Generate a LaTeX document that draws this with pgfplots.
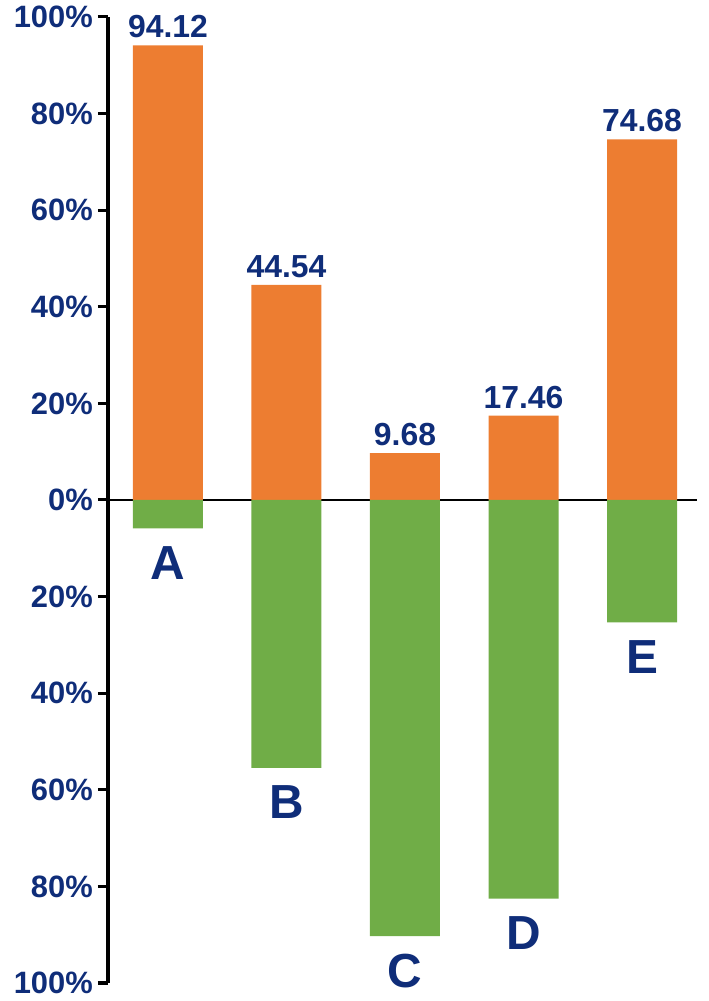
\documentclass[border=0pt]{standalone}
\usepackage{fontspec}
\setmainfont{Liberation Sans}
\usepackage{pgfplots}
\usepackage{pgfplotstable}
\pgfplotsset{compat=1.18}
\definecolor{barorange}{HTML}{ED7D31}
\definecolor{bargreen}{HTML}{70AD47}
\definecolor{navy}{HTML}{0F2D79}
\pgfplotstableread{
x y label
0 94.12 94.12
1 44.54 44.54
2 9.68 9.68
3 17.46 17.46
4 74.68 74.68
}\pos
\pgfplotstableread{
x y label
0 -5.88 A
1 -55.46 B
2 -90.32 C
3 -82.54 D
4 -25.32 E
}\neg
\begin{document}
\begin{tikzpicture}
\useasboundingbox (0,0) rectangle (709bp,1001bp);
\begin{axis}[
  at={(108bp,18bp)}, anchor=south west,
  scale only axis, width=589bp, height=966bp,
  xmin=-0.506, xmax=4.464,
  ymin=-100, ymax=100,
  axis x line=middle, axis y line=left,
  x axis line style={-, line width=2bp, black},
  y axis line style={-, line width=3bp, black},
  xtick=\empty,
  ytick={-100,-80,-60,-40,-20,0,20,40,60,80,100},
  yticklabels={100\%,80\%,60\%,40\%,20\%,0\%,20\%,40\%,60\%,80\%,100\%},
  tick align=outside,
  major tick length=10bp,
  ytick style={line width=3bp, black},
  yticklabel style={font=\fontsize{31}{31}\selectfont\bfseries, text=navy, inner sep=0pt, xshift=-5bp},
  clip=false,
  ybar, bar width=70bp,
]
\addplot[fill=barorange, draw=none, bar shift=0pt,
  point meta=explicit symbolic,
  nodes near coords,
  nodes near coords style={font=\fontsize{32}{32}\selectfont\bfseries, text=navy, inner sep=0pt, anchor=south, yshift=7bp},
] table[x=x,y=y,meta=label] {\pos};
\addplot[fill=bargreen, draw=none, bar shift=0pt,
  point meta=explicit symbolic,
  nodes near coords,
  nodes near coords style={font=\fontsize{48}{48}\selectfont\bfseries, text=navy, inner sep=0pt, anchor=north, yshift=-18bp},
] table[x=x,y=y,meta=label] {\neg};
\end{axis}
\end{tikzpicture}
\end{document}
